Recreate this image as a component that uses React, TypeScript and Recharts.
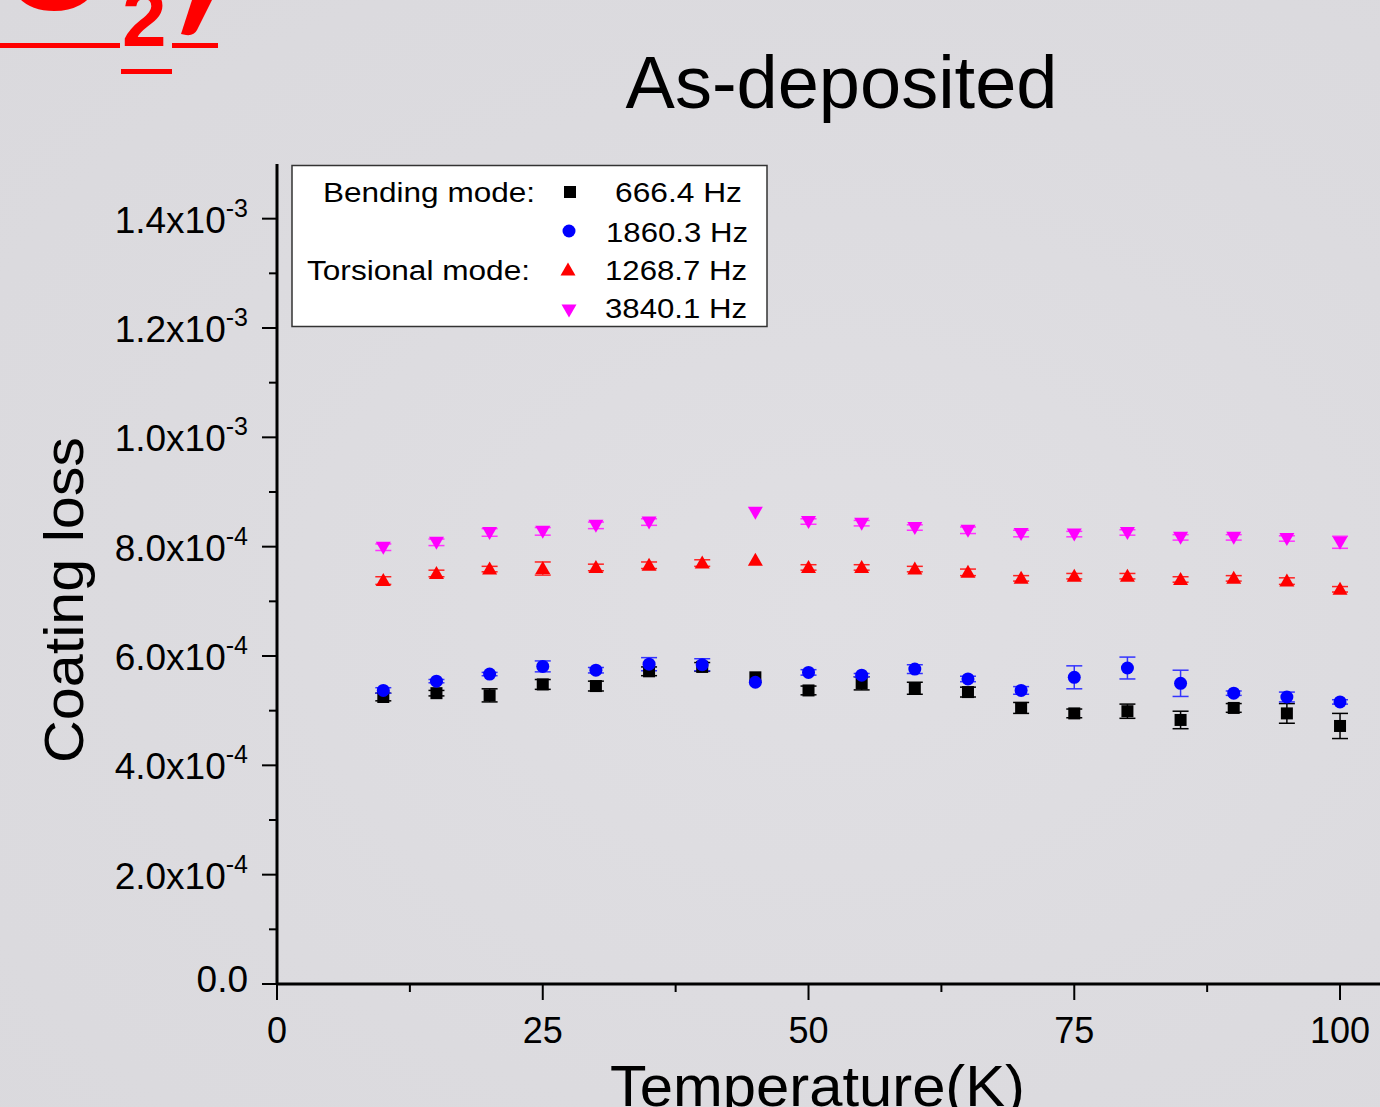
import React from "react"
import { ScatterChart, Scatter, XAxis, YAxis, ErrorBar } from "recharts"

// ── Data (coating loss vs temperature) ────────────────────────────────
const temps = [10, 15, 20, 25, 30, 35, 40, 45, 50, 55, 60, 65, 70, 75, 80, 85, 90, 95, 100]

// bending mode, 666.4 Hz
const bend666 = [5.25e-4, 5.32e-4, 5.28e-4, 5.48e-4, 5.45e-4, 5.72e-4, 5.80e-4, 5.61e-4, 5.37e-4, 5.50e-4, 5.41e-4, 5.34e-4, 5.05e-4, 4.95e-4, 4.99e-4, 4.83e-4, 5.05e-4, 4.95e-4, 4.72e-4]
const bend666Err = [0.7e-5, 0.5e-5, 1.2e-5, 0.9e-5, 0.9e-5, 0.8e-5, 0.8e-5, null, 0.8e-5, 1.2e-5, 1.1e-5, 0.9e-5, 1.0e-5, 0.8e-5, 1.3e-5, 1.6e-5, 0.8e-5, 1.8e-5, 2.3e-5]

// bending mode, 1860.3 Hz
const bend1860 = [5.37e-4, 5.54e-4, 5.67e-4, 5.81e-4, 5.74e-4, 5.85e-4, 5.84e-4, 5.52e-4, 5.70e-4, 5.65e-4, 5.76e-4, 5.58e-4, 5.37e-4, 5.61e-4, 5.78e-4, 5.50e-4, 5.32e-4, 5.25e-4, 5.16e-4]
const bend1860Err = [0.5e-5, 0.3e-5, 0.3e-5, 1.0e-5, 0.5e-5, 1.2e-5, 1.1e-5, null, 0.5e-5, 0.3e-5, 0.8e-5, 0.5e-5, 0.7e-5, 2.1e-5, 2.0e-5, 2.4e-5, 0.4e-5, 0.9e-5, 0.4e-5]

// torsional mode, 1268.7 Hz
const tors1268 = [7.38e-4, 7.51e-4, 7.59e-4, 7.60e-4, 7.62e-4, 7.66e-4, 7.70e-4, 7.75e-4, 7.62e-4, 7.62e-4, 7.59e-4, 7.53e-4, 7.42e-4, 7.46e-4, 7.46e-4, 7.40e-4, 7.42e-4, 7.37e-4, 7.22e-4]
const tors1268Err = [0.7e-5, 0.6e-5, 0.5e-5, 1.2e-5, 0.6e-5, 0.6e-5, 0.6e-5, null, 0.5e-5, 0.5e-5, 0.5e-5, 0.6e-5, 0.5e-5, 0.5e-5, 0.5e-5, 0.5e-5, 0.5e-5, 0.6e-5, 0.5e-5]

// torsional mode, 3840.1 Hz (no point at 40 K)
const tors3840 = [7.99e-4, 8.08e-4, 8.26e-4, 8.28e-4, 8.39e-4, 8.45e-4, null, 8.63e-4, 8.46e-4, 8.43e-4, 8.35e-4, 8.30e-4, 8.24e-4, 8.23e-4, 8.26e-4, 8.17e-4, 8.17e-4, 8.15e-4, 8.08e-4]
const tors3840Err = [0.6e-5, 0.6e-5, 0.7e-5, 0.7e-5, 0.6e-5, 0.6e-5, null, null, 0.5e-5, 0.5e-5, 0.5e-5, 0.6e-5, 0.6e-5, 0.5e-5, 0.5e-5, 0.5e-5, 0.5e-5, 0.5e-5, 1.1e-5]

const xTicks = [0, 12.5, 25, 37.5, 50, 62.5, 75, 87.5, 100]
const xMajor = [0, 25, 50, 75, 100]
const yTicks = [0, 1e-4, 2e-4, 3e-4, 4e-4, 5e-4, 6e-4, 7e-4, 8e-4, 9e-4, 1e-3, 1.1e-3, 1.2e-3, 1.3e-3, 1.4e-3]

const FONT = "'Liberation Sans', Arial, sans-serif"

const build = (vals: (number | null)[], errs: (number | null)[]) =>
  temps
    .map((t, i) => ({ t, v: vals[i], e: errs[i] }))
    .filter((d) => d.v != null)

// ── Markers ───────────────────────────────────────────────────────────
const SquareMark = ({ cx, cy, fill = "#000" }: any) => (
  <rect x={cx - 6} y={cy - 6} width={12} height={12} fill={fill} />
)
const CircleMark = ({ cx, cy, fill = "#0000ff" }: any) => (
  <circle cx={cx} cy={cy} r={6.5} fill={fill} />
)
const UpMark = ({ cx, cy, fill = "#ff0000" }: any) => (
  <polygon points={`${cx},${cy - 7.5} ${cx + 7.5},${cy + 5.5} ${cx - 7.5},${cy + 5.5}`} fill={fill} />
)
const DownMark = ({ cx, cy, fill = "#ff00ff" }: any) => (
  <polygon points={`${cx},${cy + 7.5} ${cx + 7.5},${cy - 5.5} ${cx - 7.5},${cy - 5.5}`} fill={fill} />
)

// ── Ticks ─────────────────────────────────────────────────────────────
const YTick = ({ x, y, payload }: any) => {
  const v = payload.value
  const major = Math.round(v / 1e-4) % 2 === 0
  if (!major) {
    return <line x1={x - 8} y1={y} x2={x} y2={y} stroke="#000" strokeWidth={2} />
  }
  const [mant, exp] = v === 0 ? ["0.0", ""] : v.toExponential(1).split("e")
  return (
    <g>
      <line x1={x - 15} y1={y} x2={x} y2={y} stroke="#000" strokeWidth={2} />
      <text x={x - 29} y={y + (exp ? 14 : 8)} textAnchor="end" fontSize={37} fontFamily={FONT} fill="#000">
        {exp ? mant + "x10" : mant}
        {exp && (
          <tspan fontSize={25} dy={-16}>
            {exp}
          </tspan>
        )}
      </text>
    </g>
  )
}

const XTick = ({ x, y, payload }: any) => {
  const v = payload.value
  const major = xMajor.includes(v)
  return (
    <g>
      <line x1={x} y1={y} x2={x} y2={y + (major ? 16 : 8)} stroke="#000" strokeWidth={2} />
      {major && (
        <text x={x} y={y + 59} textAnchor="middle" fontSize={36} fontFamily={FONT} fill="#000">
          {v}
        </text>
      )}
    </g>
  )
}

// ── Overlay (titles, legend, slide fragment) ──────────────────────────
const Overlay = () => (
  <svg width={1380} height={1107} style={{ position: "absolute", left: 0, top: 0, pointerEvents: "none" }}>
    {/* red slide title fragment, cut by the top edge */}
    <g fill="#ff0000">
      <text x={0} y={10} fontSize={140} fontWeight="bold" fontFamily={FONT}>O</text>
      <rect x={0} y={43} width={120} height={5} />
      <text x={122} y={46} fontSize={80} fontWeight="bold" fontFamily={FONT}>2</text>
      <rect x={121} y={69} width={51} height={5} />
      <path d="M192,0 L212,0 L197,30 Q194,36 186,35 L181,34 Z" />
      <rect x={172} y={43} width={46} height={5} />
    </g>

    <text x={841.5} y={108} textAnchor="middle" fontSize={74} fontFamily={FONT} fill="#000">
      As-deposited
    </text>
    <text
      transform="translate(83,600) rotate(-90)"
      textAnchor="middle"
      fontSize={56}
      fontFamily={FONT}
      textLength={326}
      lengthAdjust="spacingAndGlyphs"
      fill="#000"
    >
      Coating loss
    </text>
    <text
      x={817.5}
      y={1106}
      textAnchor="middle"
      fontSize={58}
      fontFamily={FONT}
      textLength={415}
      lengthAdjust="spacingAndGlyphs"
      fill="#000"
    >
      Temperature(K)
    </text>

    {/* legend */}
    <rect x={292} y={165.5} width={475} height={161} fill="#fff" stroke="#333" strokeWidth={1.5} />
    <g fontSize={27} fontFamily={FONT} fill="#000">
      <text x={323} y={202} textLength={212} lengthAdjust="spacingAndGlyphs">Bending mode:</text>
      <text x={307} y={280} textLength={223} lengthAdjust="spacingAndGlyphs">Torsional mode:</text>
      <text x={615} y={202} textLength={127} lengthAdjust="spacingAndGlyphs">666.4 Hz</text>
      <text x={606} y={242} textLength={142} lengthAdjust="spacingAndGlyphs">1860.3 Hz</text>
      <text x={605} y={280} textLength={142} lengthAdjust="spacingAndGlyphs">1268.7 Hz</text>
      <text x={605} y={318} textLength={142} lengthAdjust="spacingAndGlyphs">3840.1 Hz</text>
    </g>
    <SquareMark cx={570} cy={192} />
    <CircleMark cx={569} cy={231} />
    <UpMark cx={568} cy={270} />
    <DownMark cx={569} cy={310} />
  </svg>
)

// ── Component ─────────────────────────────────────────────────────────
export default function App() {
  return (
    <div
      style={{
        position: "absolute",
        left: 0,
        top: 0,
        width: 1380,
        height: 1107,
        overflow: "hidden",
        background: "radial-gradient(ellipse at 60% 55%, #e0dfe3 0%, #dcdbdf 60%, #dad9dd 100%)",
      }}
    >
      <div style={{ position: "absolute", left: 0, top: 0 }}>
        <ScatterChart width={1380} height={1107} margin={{ top: 164, right: 0, bottom: 0, left: 0 }}>
          <XAxis
            type="number"
            dataKey="t"
            domain={[0, 103.76]}
            ticks={xTicks}
            interval={0}
            height={123}
            tickSize={0}
            tickMargin={0}
            tickLine={false}
            axisLine={{ stroke: "#000", strokeWidth: 3 }}
            tick={(p: any) => <XTick {...p} />}
            allowDataOverflow
          />
          <YAxis
            type="number"
            dataKey="v"
            domain={[0, 1.5e-3]}
            ticks={yTicks}
            interval={0}
            width={277}
            tickSize={0}
            tickMargin={0}
            tickLine={false}
            axisLine={{ stroke: "#000", strokeWidth: 3 }}
            tick={(p: any) => <YTick {...p} />}
            allowDataOverflow
          />
          <Scatter data={build(bend666, bend666Err)} shape={(p: any) => <SquareMark {...p} fill="#000" />} isAnimationActive={false}>
            <ErrorBar dataKey="e" direction="y" width={8} stroke="#000" strokeWidth={1.5} />
          </Scatter>
          <Scatter data={build(bend1860, bend1860Err)} shape={(p: any) => <CircleMark {...p} fill="#0000ff" />} isAnimationActive={false}>
            <ErrorBar dataKey="e" direction="y" width={8} stroke="#3333ff" strokeWidth={1.5} />
          </Scatter>
          <Scatter data={build(tors1268, tors1268Err)} shape={(p: any) => <UpMark {...p} fill="#ff0000" />} isAnimationActive={false}>
            <ErrorBar dataKey="e" direction="y" width={8} stroke="#ff2222" strokeWidth={1.5} />
          </Scatter>
          <Scatter data={build(tors3840, tors3840Err)} shape={(p: any) => <DownMark {...p} fill="#ff00ff" />} isAnimationActive={false}>
            <ErrorBar dataKey="e" direction="y" width={8} stroke="#ff33ff" strokeWidth={1.5} />
          </Scatter>
        </ScatterChart>
      </div>
      <Overlay />
    </div>
  )
}
